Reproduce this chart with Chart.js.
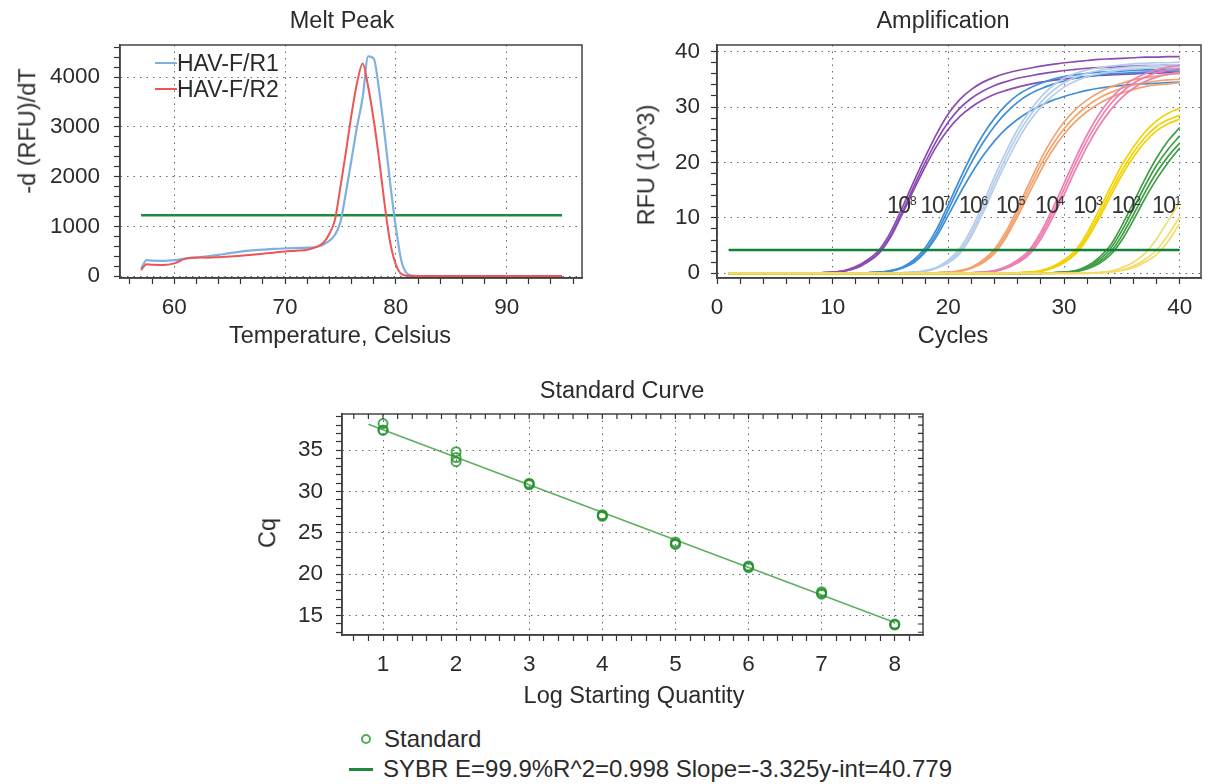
<!DOCTYPE html>
<html>
<head>
<meta charset="utf-8">
<script src="https://cdn.jsdelivr.net/npm/chart.js@4.4.1/dist/chart.umd.min.js"></script>
<style>
  body { margin: 0; background: #fff; }
  #fig { position: relative; width: 1208px; height: 784px; overflow: hidden;
         font-family: 'Liberation Sans', Arial, sans-serif; color: #2b2b2b; background: #fff; }
  canvas { position: absolute; }
  .t { position: absolute; white-space: nowrap; line-height: 1; font-size: 23.5px;
       transform: translate(-50%, -50%); }
  .rot { transform: translate(-50%, -50%) rotate(-90deg); }
  .lbl { position: absolute; white-space: nowrap; line-height: 1; transform: translateY(-50%); }
  .mk { position: absolute; height: 2px; }
  .pow { position: absolute; white-space: nowrap; font-size: 23px; line-height: 22px;
         letter-spacing: -1.5px; color: #333; }
  .pow sup { font-size: 12.5px; vertical-align: 0; position: relative; top: -8px; letter-spacing: 0; }
</style>
</head>
<body>
<div id="fig">
  <canvas id="melt" width="600" height="360" style="left:0;top:0"></canvas>
  <canvas id="amp" width="608" height="360" style="left:600px;top:0"></canvas>
  <canvas id="std" width="1208" height="340" style="left:0;top:360px"></canvas>

  <div class="t" style="left:342px;top:21px">Melt Peak</div>
  <div class="t" style="left:943px;top:21px">Amplification</div>
  <div class="t" style="left:340px;top:336px">Temperature, Celsius</div>
  <div class="t" style="left:953px;top:336px">Cycles</div>
  <div class="t rot" style="left:28px;top:131px">-d (RFU)/dT</div>
  <div class="t rot" style="left:647px;top:165px">RFU (10^3)</div>
  <div class="t" style="left:622px;top:391px">Standard Curve</div>
  <div class="t rot" style="left:268px;top:533px">Cq</div>
  <div class="t" style="left:634px;top:696px">Log Starting Quantity</div>

  <!-- melt legend -->
  <div class="mk" style="left:155px;top:62px;width:22px;background:#7fb0df"></div>
  <div class="lbl" style="left:177px;top:63px;font-size:23px">HAV-F/R1</div>
  <div class="mk" style="left:155px;top:88px;width:22px;background:#ee5555"></div>
  <div class="lbl" style="left:177px;top:89px;font-size:23px">HAV-F/R2</div>

  <!-- standard curve legend -->
  <div style="position:absolute;left:361px;top:734px;width:6px;height:6px;border:2px solid #4caf50;border-radius:50%"></div>
  <div class="lbl" style="left:384px;top:739px;font-size:24px">Standard</div>
  <div class="mk" style="left:349px;top:768px;width:24px;height:2.5px;background:#1f8a3c"></div>
  <div class="lbl" style="left:383px;top:769px;font-size:24px">SYBR E=99.9%R^2=0.998 Slope=-3.325y-int=40.779</div>
</div>

<script>
// ---- Melt Peak ----
const meltTemps = [57, 57.5, 58, 59, 60, 61, 62, 63, 64, 65, 66, 67, 68, 69, 70, 71, 72, 73,
  73.5, 74, 74.5, 75, 75.5, 76, 76.5, 77, 77.5, 78, 78.5, 79, 79.5, 80, 80.5, 81, 81.5, 82,
  84, 86, 88, 90, 92, 95];
const meltR1 = [150, 320, 308, 305, 320, 350, 372, 395, 425, 460, 492, 515, 530, 545, 555, 563, 570, 595,
  640, 710, 830, 1090, 1690, 2350, 3010, 3590, 4420, 4380, 3720, 2820, 1840, 980, 300, 50, 10, 0,
  0, 0, 0, 0, 0, 0];
const meltR2 = [120, 235, 225, 222, 255, 350, 375, 370, 380, 395, 410, 430, 450, 470, 495, 510, 530, 600,
  680, 850, 1130, 1800, 2510, 3260, 3890, 4280, 3810, 3140, 2330, 1420, 660, 230, 40, 7, 0, 0,
  0, 0, 0, 0, 0, 0];
const meltThreshold = 1221;
const meltThresholdSpan = [57, 95];

// ---- Amplification (RFU x10^3 per cycle) ----
const ampCycles = [1,2,3,4,5,6,7,8,9,10,11,12,13,14,15,16,17,18,19,20,
  21,22,23,24,25,26,27,28,29,30,31,32,33,34,35,36,37,38,39,40];
const rfu1e8 = [
  [0,0,0,0,0,0,0,0.05,0.1,0.2, 0.5,1.2,2.4,4.2,7.4,11.8,16.5,21.0,25.2,28.8, 31.4,33.2,34.5,35.4,36.1,36.6,37.0,37.4,37.7,38.0, 38.2,38.4,38.6,38.7,38.8,38.9,39.0,39.0,39.1,39.1],
  [0,0,0,0,0,0,0,0.05,0.1,0.2, 0.4,1.0,2.1,3.8,6.8,11.0,15.6,20.0,24.0,27.3, 29.8,31.6,32.9,33.9,34.6,35.2,35.6,36.0,36.3,36.6, 36.8,37.0,37.1,37.2,37.3,37.4,37.5,37.5,37.6,37.6],
  [0,0,0,0,0,0,0,0.05,0.1,0.15, 0.4,0.9,2.0,3.6,6.5,10.6,15.0,19.2,23.0,26.0, 28.3,30.0,31.3,32.3,33.0,33.6,34.1,34.5,34.8,35.1, 35.3,35.5,35.7,35.8,35.9,36.0,36.1,36.1,36.2,36.2]
];
const rfu1e7 = [
  [0,0,0,0,0,0,0,0,0,0, 0,0.05,0.1,0.2,0.5,1.1,2.4,4.6,8.0,12.4, 17.0,21.3,25.0,28.0,30.4,32.2,33.4,34.3,35.0,35.5, 35.8,36.1,36.3,36.4,36.5,36.6,36.7,36.7,36.8,36.8],
  [0,0,0,0,0,0,0,0,0,0, 0,0.05,0.1,0.2,0.4,1.0,2.1,4.1,7.3,11.5, 15.9,20.0,23.6,26.6,29.0,30.9,32.3,33.3,34.1,34.7, 35.2,35.5,35.8,36.0,36.1,36.2,36.3,36.4,36.5,36.5],
  [0,0,0,0,0,0,0,0,0,0, 0,0,0.1,0.2,0.4,0.9,1.9,3.8,6.7,10.5, 14.4,18.0,21.2,23.9,26.1,27.8,29.2,30.3,31.2,31.9, 32.5,33.0,33.4,33.7,33.9,34.1,34.2,34.3,34.4,34.5]
];
const rfu1e6 = [
  [0,0,0,0,0,0,0,0,0,0, 0,0,0,0,0.05,0.1,0.2,0.5,1.1,2.4, 4.5,8.0,12.6,17.5,22.0,26.0,29.2,31.8,33.8,35.2, 36.1,36.7,37.1,37.4,37.6,37.8,37.9,38.0,38.0,38.1],
  [0,0,0,0,0,0,0,0,0,0, 0,0,0,0,0,0.1,0.2,0.4,1.0,2.1, 4.0,7.3,11.7,16.5,21.0,25.0,28.3,30.9,32.9,34.4, 35.4,36.1,36.6,36.9,37.1,37.3,37.4,37.5,37.6,37.6],
  [0,0,0,0,0,0,0,0,0,0, 0,0,0,0,0,0.1,0.15,0.35,0.9,1.9, 3.6,6.7,10.9,15.6,20.0,24.0,27.4,30.0,32.0,33.6, 34.7,35.5,36.0,36.4,36.7,36.9,37.0,37.1,37.2,37.3]
];
const rfu1e5 = [
  [0,0,0,0,0,0,0,0,0,0, 0,0,0,0,0,0,0,0.05,0.1,0.2, 0.5,1.1,2.4,4.4,7.6,11.8,16.3,20.6,24.3,27.3, 29.6,31.3,32.6,33.6,34.3,34.9,35.3,35.6,35.9,36.0],
  [0,0,0,0,0,0,0,0,0,0, 0,0,0,0,0,0,0,0,0.1,0.2, 0.4,1.0,2.1,4.0,7.0,11.0,15.4,19.6,23.2,26.1, 28.4,30.2,31.6,32.6,33.4,34.0,34.4,34.7,34.9,35.0],
  [0,0,0,0,0,0,0,0,0,0, 0,0,0,0,0,0,0,0,0.1,0.15, 0.35,0.9,1.9,3.6,6.5,10.3,14.5,18.6,22.2,25.1, 27.4,29.2,30.6,31.7,32.5,33.2,33.7,34.0,34.2,34.4]
];
const rfu1e4 = [
  [0,0,0,0,0,0,0,0,0,0, 0,0,0,0,0,0,0,0,0,0, 0.05,0.1,0.2,0.5,1.2,2.4,4.2,7.4,11.6,16.2, 20.8,25.0,28.6,31.4,33.5,35.0,36.0,36.7,37.2,37.5],
  [0,0,0,0,0,0,0,0,0,0, 0,0,0,0,0,0,0,0,0,0, 0,0.1,0.2,0.4,1.0,2.1,3.8,6.8,10.8,15.2, 19.8,24.0,27.6,30.5,32.7,34.3,35.4,36.2,36.7,37.0],
  [0,0,0,0,0,0,0,0,0,0, 0,0,0,0,0,0,0,0,0,0, 0,0.1,0.15,0.35,0.9,1.9,3.4,6.2,10.0,14.2, 18.7,22.9,26.5,29.4,31.7,33.4,34.6,35.4,35.9,36.3]
];
const rfu1e3 = [
  [0,0,0,0,0,0,0,0,0,0, 0,0,0,0,0,0,0,0,0,0, 0,0,0,0,0.05,0.1,0.2,0.5,1.2,2.4, 4.2,7.3,11.3,15.5,19.5,22.8,25.5,27.5,28.9,29.8],
  [0,0,0,0,0,0,0,0,0,0, 0,0,0,0,0,0,0,0,0,0, 0,0,0,0,0,0.1,0.2,0.4,1.0,2.1, 3.8,6.7,10.5,14.6,18.5,21.8,24.5,26.5,27.7,28.5],
  [0,0,0,0,0,0,0,0,0,0, 0,0,0,0,0,0,0,0,0,0, 0,0,0,0,0,0.1,0.15,0.35,0.9,1.9, 3.5,6.2,9.8,13.8,17.7,21.0,23.7,25.7,27.0,27.8]
];
const rfu1e2 = [
  [0,0,0,0,0,0,0,0,0,0, 0,0,0,0,0,0,0,0,0,0, 0,0,0,0,0,0,0,0.05,0.1,0.2, 0.5,1.3,2.8,5.0,8.6,12.8,17.0,20.8,23.9,26.3],
  [0,0,0,0,0,0,0,0,0,0, 0,0,0,0,0,0,0,0,0,0, 0,0,0,0,0,0,0,0,0.1,0.2, 0.4,1.1,2.4,4.4,7.7,11.7,15.8,19.5,22.4,24.8],
  [0,0,0,0,0,0,0,0,0,0, 0,0,0,0,0,0,0,0,0,0, 0,0,0,0,0,0,0,0,0.1,0.15, 0.35,0.9,2.0,3.8,6.8,10.6,14.6,18.2,21.1,23.5],
  [0,0,0,0,0,0,0,0,0,0, 0,0,0,0,0,0,0,0,0,0, 0,0,0,0,0,0,0,0,0,0.15, 0.3,0.8,1.7,3.3,6.0,9.6,13.5,17.0,20.0,22.6]
];
const rfu1e1 = [
  [0,0,0,0,0,0,0,0,0,0, 0,0,0,0,0,0,0,0,0,0, 0,0,0,0,0,0,0,0,0,0, 0,0.05,0.15,0.4,1.0,2.0,3.6,6.2,9.5,12.8],
  [0,0,0,0,0,0,0,0,0,0, 0,0,0,0,0,0,0,0,0,0, 0,0,0,0,0,0,0,0,0,0, 0,0,0.1,0.25,0.6,1.3,2.5,4.2,6.9,10.2],
  [0,0,0,0,0,0,0,0,0,0, 0,0,0,0,0,0,0,0,0,0, 0,0,0,0,0,0,0,0,0,0, 0,0,0.05,0.2,0.5,1.0,2.0,3.4,5.8,9.0]
];
const ampThreshold = 4.2;
const ampThresholdSpan = [1, 40];
// dilution labels: exponent and the cycle / RFU where each label sits
const ampMarkExp = ['8', '7', '6', '5', '4', '3', '2', '1'];
const ampMarkCycle = [14.7, 17.6, 20.9, 24.1, 27.5, 30.8, 34.1, 37.6];
const ampMarkRfu = 10.9;

// ---- Standard Curve ----
const stdLogQty = [1, 1, 1, 2, 2, 2, 3, 3, 3, 4, 4, 4, 5, 5, 5, 6, 6, 6, 7, 7, 7, 8, 8, 8];
const stdCq = [38.2, 37.4, 37.4, 34.8, 34.1, 33.6, 31.0, 30.8, 30.9, 27.2, 27.0, 27.1,
  23.9, 23.7, 23.6, 21.0, 20.9, 20.8, 17.9, 17.7, 17.6, 14.0, 13.9, 13.9];
const stdFitQty = [0.8, 8.0];
const stdFitCq = [38.12, 14.18];

// ---- shared setup ----
Chart.defaults.font.family = "'Liberation Sans', Arial, sans-serif";
Chart.defaults.font.size = 22.5;
Chart.defaults.color = '#2b2b2b';
Chart.defaults.animation = false;
Chart.defaults.plugins.legend.display = false;
Chart.defaults.plugins.tooltip.enabled = false;

const frame = {
  id: 'frame',
  afterDraw(chart) {
    const { ctx, chartArea: a } = chart;
    ctx.save();
    ctx.strokeStyle = '#444';
    ctx.lineWidth = 1.5;
    ctx.strokeRect(a.left, a.top, a.right - a.left, a.bottom - a.top);
    ctx.restore();
  }
};

// tick marks pointing inward on the top and right edges (standard curve only)
const innerTicks = {
  id: 'innerTicks',
  afterDraw(chart) {
    const { ctx, chartArea: a, scales: { x, y } } = chart;
    ctx.save();
    ctx.strokeStyle = '#333';
    ctx.lineWidth = 1.2;
    ctx.beginPath();
    x.ticks.forEach(t => {
      const px = x.getPixelForValue(t.value);
      ctx.moveTo(px, a.top); ctx.lineTo(px, a.top + 5);
    });
    y.ticks.forEach(t => {
      const py = y.getPixelForValue(t.value);
      ctx.moveTo(a.right, py); ctx.lineTo(a.right - 5, py);
    });
    ctx.stroke();
    ctx.restore();
  }
};

const isMult = (v, m) => Math.abs(v / m - Math.round(v / m)) < 1e-6;

function axis(min, max, minor, major, pad, size, horizontal) {
  return {
    type: 'linear', min, max,
    ticks: {
      stepSize: minor, autoSkip: false, includeBounds: false, maxRotation: 0, minRotation: 0,
      padding: pad,
      callback: v => isMult(v, major) ? String(Math.round(v)) : ''
    },
    grid: {
      color: c => (c.tick && isMult(c.tick.value, major)) ? '#666' : 'rgba(0,0,0,0)',
      lineWidth: 1, tickLength: 6, tickColor: '#333', tickWidth: 1.2, tickBorderDash: []
    },
    border: { display: true, color: '#333', width: 1.5, dash: [1.5, 5] },
    afterFit: s => { if (horizontal) s.height = size; else s.width = size; }
  };
}

const curve = (data, color, width) => ({
  data, borderColor: color, borderWidth: width, pointRadius: 0,
  cubicInterpolationMode: 'monotone', fill: false
});
const hline = (span, value, color, width) => ({
  data: [{ x: span[0], y: value }, { x: span[1], y: value }],
  borderColor: color, borderWidth: width, pointRadius: 0, fill: false
});

// ---- Melt chart ----
new Chart(document.getElementById('melt'), {
  type: 'line',
  data: {
    labels: meltTemps,
    datasets: [
      curve(meltR2, '#ee5555', 2),
      curve(meltR1, '#7fb0df', 2.2),
      hline(meltThresholdSpan, meltThreshold, '#1f8a3c', 2.5)
    ]
  },
  options: {
    responsive: false,
    layout: { padding: { top: 45, right: 18, left: 0, bottom: 0 } },
    scales: {
      x: axis(55.1, 96.8, 2, 10, 10, 82, true),
      y: axis(-40, 4650, 200, 1000, 14, 120, false)
    }
  },
  plugins: [frame]
});

// ---- Amplification chart ----
const groups = [
  [rfu1e1, '#f3dc6a'],
  [rfu1e3, '#f2d200'],
  [rfu1e2, '#3f9e45'],
  [rfu1e4, '#ee7db0'],
  [rfu1e5, '#f2a36d'],
  [rfu1e6, '#b5cde8'],
  [rfu1e7, '#3e8fd8'],
  [rfu1e8, '#8a4cb0']
];
const ampSets = [hline(ampThresholdSpan, ampThreshold, '#13803a', 2.5)];
groups.forEach(([runs, color]) => runs.forEach(r => ampSets.push(curve(r, color, 1.7))));

const ampChart = new Chart(document.getElementById('amp'), {
  type: 'line',
  data: { labels: ampCycles, datasets: ampSets },
  options: {
    responsive: false,
    layout: { padding: { top: 45, right: 7, left: 0, bottom: 0 } },
    scales: {
      x: axis(0, 41.84, 2, 10, 10, 82, true),
      y: axis(-0.85, 41.2, 2, 10, 11, 117, false)
    }
  },
  plugins: [frame]
});

const fig = document.getElementById('fig');
ampMarkExp.forEach((e, i) => {
  const el = document.createElement('div');
  el.className = 'pow';
  el.innerHTML = '10<sup>' + e + '</sup>';
  el.style.left = (600 + ampChart.scales.x.getPixelForValue(ampMarkCycle[i])) + 'px';
  el.style.top = (ampChart.scales.y.getPixelForValue(ampMarkRfu) - 19) + 'px';
  fig.appendChild(el);
});

// ---- Standard curve ----
new Chart(document.getElementById('std'), {
  type: 'scatter',
  data: {
    datasets: [
      {
        data: stdLogQty.map((q, i) => ({ x: q, y: stdCq[i] })),
        pointStyle: 'circle', pointRadius: 4.5, borderWidth: 2,
        borderColor: 'rgba(35,145,45,0.8)', backgroundColor: 'rgba(0,0,0,0)'
      },
      {
        data: stdFitQty.map((q, i) => ({ x: q, y: stdFitCq[i] })),
        showLine: true, pointRadius: 0, borderColor: '#5fae5f', borderWidth: 1.6
      }
    ]
  },
  options: {
    responsive: false,
    layout: { padding: { top: 54, right: 285, left: 0, bottom: 0 } },
    scales: {
      x: axis(0.439, 8.387, 0.2, 1, 10, 65, true),
      y: axis(12.67, 39.35, 1, 5, 13, 342, false)
    }
  },
  plugins: [frame, innerTicks]
});
</script>
</body>
</html>
